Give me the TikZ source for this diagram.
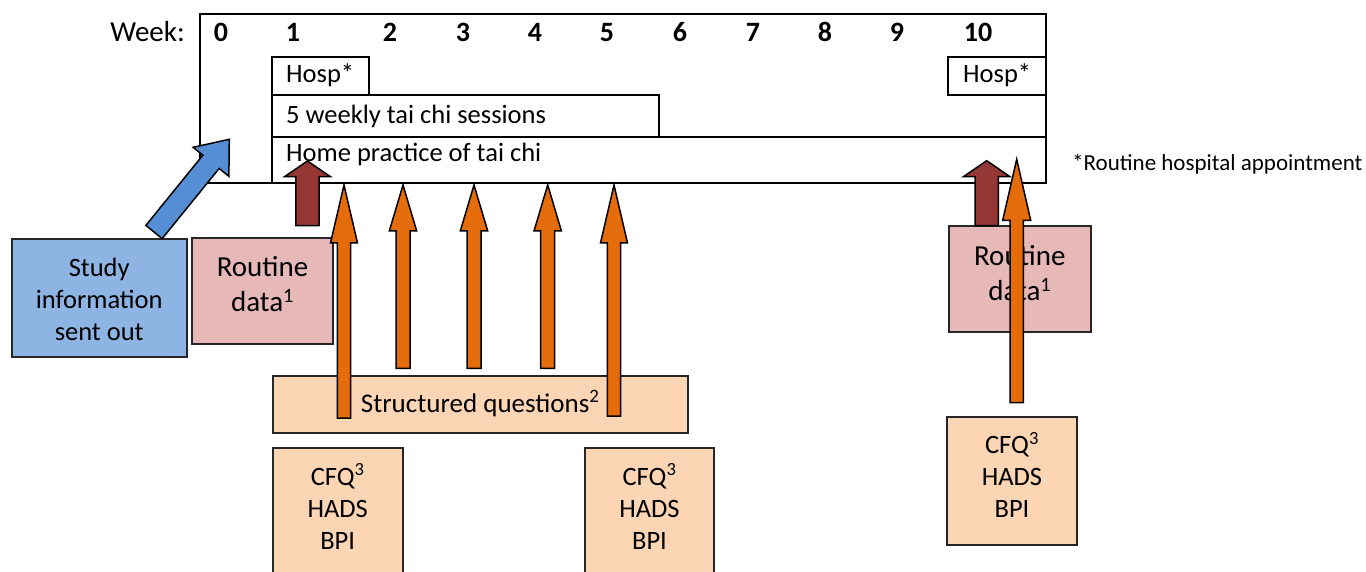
\documentclass[tikz,border=0pt]{standalone}
\usepackage{fontspec}
\setmainfont{Carlito}
\usetikzlibrary{calc}
\definecolor{bluearrow}{HTML}{558ED5}
\definecolor{bluebox}{HTML}{8DB4E2}
\definecolor{rosebox}{HTML}{E6B9B8}
\definecolor{darkred}{HTML}{953735}
\definecolor{orangearrow}{HTML}{E46C0A}
\definecolor{peach}{HTML}{FCD5B5}
\definecolor{boxline}{HTML}{262626}
% #1 style, #2 base coordinate, #3 tip coordinate, #4 shaft half width, #5 head half width, #6 head length
\newcommand\blockarrow[6]{%
  \coordinate (ba-h) at ($(#3)!#6!(#2)$);
  \filldraw[#1] ($(#2)!#4!90:(#3)$) -- ($(ba-h)!#4!90:(#3)$) -- ($(ba-h)!#5!90:(#3)$) -- (#3)
    -- ($(ba-h)!#5!-90:(#3)$) -- ($(ba-h)!#4!-90:(#3)$) -- ($(#2)!#4!-90:(#3)$) -- cycle;
}
\begin{document}
\begin{tikzpicture}[x=1pt,y=-1pt,font={\fontsize{26.5}{32}\selectfont},
  frameline/.style={draw=black,line width=2pt},
  rowtext/.style={anchor=base west,inner sep=0pt},
  weeknum/.style={anchor=base,inner sep=0pt,font={\fontsize{28}{32}\selectfont\bfseries}},
  infobox/.style={draw=boxline,line width=2pt,inner sep=0pt},
  boxtext/.style={align=center,inner sep=0pt,anchor=base},
  bigtext/.style={font={\fontsize{29}{35.5}\selectfont}},
  blueA/.style={fill=bluearrow,draw=black,line width=1.5pt,line join=miter},
  redA/.style={fill=darkred,draw=black,line width=1.5pt,line join=miter},
  orangeA/.style={fill=orangearrow,draw=black,line width=1.5pt,line join=miter}]
\useasboundingbox (0,0) rectangle (1366,572);
\clip (0,0) rectangle (1366,572);

% timeline frame and rows
\draw[frameline] (200,14) rectangle (1046,183);
\draw[frameline] (272,57) rectangle (369,95);
\draw[frameline] (272,95) rectangle (659,137);
\draw[frameline] (272,137) rectangle (1046,183);
\draw[frameline] (948,57) rectangle (1046,95);

\node[anchor=base east,inner sep=0pt,bigtext] (weeklbl) at (185,42) {Week:};
\foreach \n/\x in {0/221,1/293,2/390,3/463,4/535,5/607,6/680,7/753,8/825,9/897,10/978}
  \node[weeknum] (w\n) at (\x,42) {\n};

\node[rowtext] (hosp1) at (286,83) {Hosp*};
\node[rowtext] (hosp2) at (963,83) {Hosp*};
\node[rowtext] (sessions) at (286,124) {5 weekly tai chi sessions};
\node[rowtext] (home) at (286,162) {Home practice of tai chi};
\node[anchor=base west,inner sep=0pt,font={\fontsize{23}{28}\selectfont}] (foot) at (1072,171) {*Routine hospital appointment};

% boxes
\node[infobox,fill=bluebox,minimum width=175pt,minimum height=118pt] (study) at (99.2,298.3) {};
\node[infobox,fill=rosebox,minimum width=141.6pt,minimum height=106pt] (rd1) at (262.5,291.3) {};
\node[infobox,fill=rosebox,minimum width=141.7pt,minimum height=105.7pt] (rd2) at (1019.8,278.8) {};
\node[infobox,fill=peach,minimum width=415pt,minimum height=56.7pt] (sq) at (480.2,404.3) {};
\node[infobox,fill=peach,minimum width=130pt,minimum height=128pt,anchor=north] (cfq1) at (337.7,447.3) {};
\node[infobox,fill=peach,minimum width=129pt,minimum height=128pt,anchor=north] (cfq2) at (649.5,447.3) {};
\node[infobox,fill=peach,minimum width=129.4pt,minimum height=128.3pt,anchor=north] (cfq3) at (1012,415.7) {};

% multi-line texts: anchor base = baseline of the last line
\node[boxtext] (studyt) at (study.center |- 0,340) {Study\\information\\sent out};
\node[boxtext,bigtext] (rd1t) at (rd1.center |- 0,312) {Routine\\data\textsuperscript{1}};
\node[boxtext,bigtext] (rd2t) at (rd2.center |- 0,300.5) {Routine\\data\textsuperscript{1}};
\node[boxtext,font={\fontsize{27}{32}\selectfont}] (sqt) at (sq.center |- 0,412) {Structured questions\textsuperscript{2}};
\node[boxtext] (cfq1t) at (cfq1.center |- 0,549) {CFQ\textsuperscript{3}\\HADS\\BPI};
\node[boxtext] (cfq2t) at (cfq2.center |- 0,549) {CFQ\textsuperscript{3}\\HADS\\BPI};
\node[boxtext] (cfq3t) at (cfq3.center |- 0,517.3) {CFQ\textsuperscript{3}\\HADS\\BPI};

% arrow end points
\coordinate (bA0) at (154,232);     \coordinate (bA1) at (229.3,139.3);
\coordinate (rL0) at (307.5,225.7); \coordinate (rL1) at (307.5,161);
\coordinate (rR0) at (986.7,225.7); \coordinate (rR1) at (986.7,160.7);
\coordinate (o10) at (344,418);     \coordinate (o11) at (344,185);
\coordinate (o20) at (403,368.3);   \coordinate (o21) at (403,185);
\coordinate (o30) at (474,368.3);   \coordinate (o31) at (474,185);
\coordinate (o40) at (547.7,368.3); \coordinate (o41) at (547.7,185);
\coordinate (o50) at (614,416);     \coordinate (o51) at (614,185);
\coordinate (o60) at (1016.7,402.7);\coordinate (o61) at (1016.7,159.3);

\blockarrow{blueA}{bA0}{bA1}{10.5pt}{23pt}{29pt}
\blockarrow{redA}{rL0}{rL1}{11.7pt}{23pt}{15.7pt}
\blockarrow{redA}{rR0}{rR1}{11.7pt}{23.3pt}{16pt}
\blockarrow{orangeA}{o10}{o11}{6.7pt}{13.5pt}{58pt}
\blockarrow{orangeA}{o20}{o21}{7pt}{13.7pt}{46pt}
\blockarrow{orangeA}{o30}{o31}{7pt}{13.7pt}{46pt}
\blockarrow{orangeA}{o40}{o41}{7pt}{13.7pt}{46pt}
\blockarrow{orangeA}{o50}{o51}{6.7pt}{13.5pt}{58pt}
\blockarrow{orangeA}{o60}{o61}{6.7pt}{14pt}{61pt}
\end{tikzpicture}
\end{document}
